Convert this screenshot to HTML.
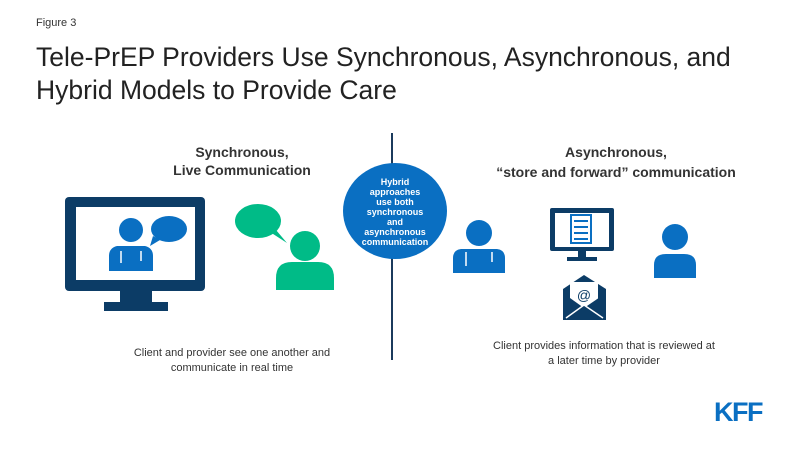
<!DOCTYPE html>
<html><head><meta charset="utf-8"><style>
body{margin:0;width:800px;height:450px;background:#fff;overflow:hidden;font-family:"Liberation Sans",Arial,sans-serif}
</style></head><body>
<svg width="800" height="450" viewBox="0 0 800 450" xmlns="http://www.w3.org/2000/svg" font-family="Liberation Sans, Arial, sans-serif">
<text x="36" y="26" font-size="11" fill="#333">Figure 3</text>
<text x="36" y="66" font-size="26.5" fill="#222">Tele-PrEP Providers Use Synchronous, Asynchronous, and</text>
<text x="36" y="99" font-size="26.5" fill="#222">Hybrid Models to Provide Care</text>
<line x1="392" y1="133" x2="392" y2="360" stroke="#1b3a5c" stroke-width="2"/>
<ellipse cx="395" cy="211" rx="52" ry="48" fill="#0a6fc2"/>
<g font-size="9" font-weight="bold" fill="#fff" text-anchor="middle">
<text x="395" y="185">Hybrid</text><text x="395" y="195">approaches</text><text x="395" y="205">use both</text>
<text x="395" y="215">synchronous</text><text x="395" y="225">and</text><text x="395" y="235">asynchronous</text><text x="395" y="245">communication</text></g>
<g font-size="14" font-weight="bold" fill="#333" text-anchor="middle">
<text x="242" y="157">Synchronous,</text><text x="242" y="175">Live Communication</text>
<text x="616" y="157">Asynchronous,</text><text x="616" y="177">“store and forward” communication</text></g>
<g font-size="11" fill="#333" text-anchor="middle">
<text x="232" y="356">Client and provider see one another and</text><text x="232" y="371">communicate in real time</text>
<text x="604" y="349">Client provides information that is reviewed at</text><text x="604" y="364">a later time by provider</text></g>
<rect x="65" y="197" width="140" height="94" rx="4" fill="#0c3c66"/>
<rect x="76" y="207" width="119" height="73" fill="#fff"/>
<rect x="120" y="291" width="32" height="15" fill="#0c3c66"/>
<rect x="104" y="302" width="64" height="9" fill="#0c3c66"/>
<circle cx="131" cy="230" r="12" fill="#0a6fc2"/>
<path d="M109 271 V256 Q109 248 117 246 L145 246 Q153 248 153 256 V271Z" fill="#0a6fc2"/>
<path d="M121 251 v12 M141 251 v10" stroke="#fff" stroke-width="1.5"/>
<ellipse cx="169" cy="229" rx="18" ry="13" fill="#0a6fc2"/>
<path d="M153 236 L150 246 L160 240Z" fill="#0a6fc2"/>
<ellipse cx="258" cy="221" rx="23" ry="17" fill="#00bb87"/>
<path d="M270 232 L287 243 L276 230Z" fill="#00bb87"/>
<circle cx="305" cy="246" r="15" fill="#00bb87"/>
<path d="M276 290 V278 Q276 262 292 262 L318 262 Q334 262 334 278 V290Z" fill="#00bb87"/>
<circle cx="479" cy="233" r="13" fill="#0a6fc2"/>
<path d="M453 273 V258 Q453 250 461 249 L497 249 Q505 250 505 258 V273Z" fill="#0a6fc2"/>
<path d="M466 252 v14 M492 252 v10" stroke="#fff" stroke-width="1.5"/>
<rect x="550" y="208" width="64" height="43" rx="2" fill="#0c3c66"/>
<rect x="555" y="213" width="54" height="34" fill="#fff"/>
<rect x="570" y="214" width="22" height="30" fill="#0a6fc2"/><rect x="572" y="216" width="18" height="26" fill="#fff"/>
<path d="M574 221h14M574 227h14M574 233h14M574 239h14" stroke="#0a6fc2" stroke-width="2"/>
<rect x="578" y="251" width="8" height="6" fill="#0c3c66"/><rect x="567" y="257" width="30" height="4" fill="#0c3c66"/>
<path d="M563 289 L584 275 L606 289 V320 H563Z" fill="#0c3c66"/>
<rect x="570" y="282" width="28" height="24" fill="#fff"/>
<text x="584" y="300" font-size="14" fill="#0c3c66" text-anchor="middle">@</text>
<path d="M563 293 L584 308 L606 293 V320 H563Z" fill="#0c3c66"/>
<path d="M566 318 L584 305 L603 318" stroke="#fff" stroke-width="1.5" fill="none"/>
<circle cx="675" cy="237" r="13" fill="#0a6fc2"/>
<path d="M654 278 V265 Q654 254 666 254 L684 254 Q696 254 696 265 V278Z" fill="#0a6fc2"/>
<text x="714" y="421" font-size="27" font-weight="bold" fill="#0a6fc2" letter-spacing="-1.5">KFF</text>
</svg>
</body></html>
